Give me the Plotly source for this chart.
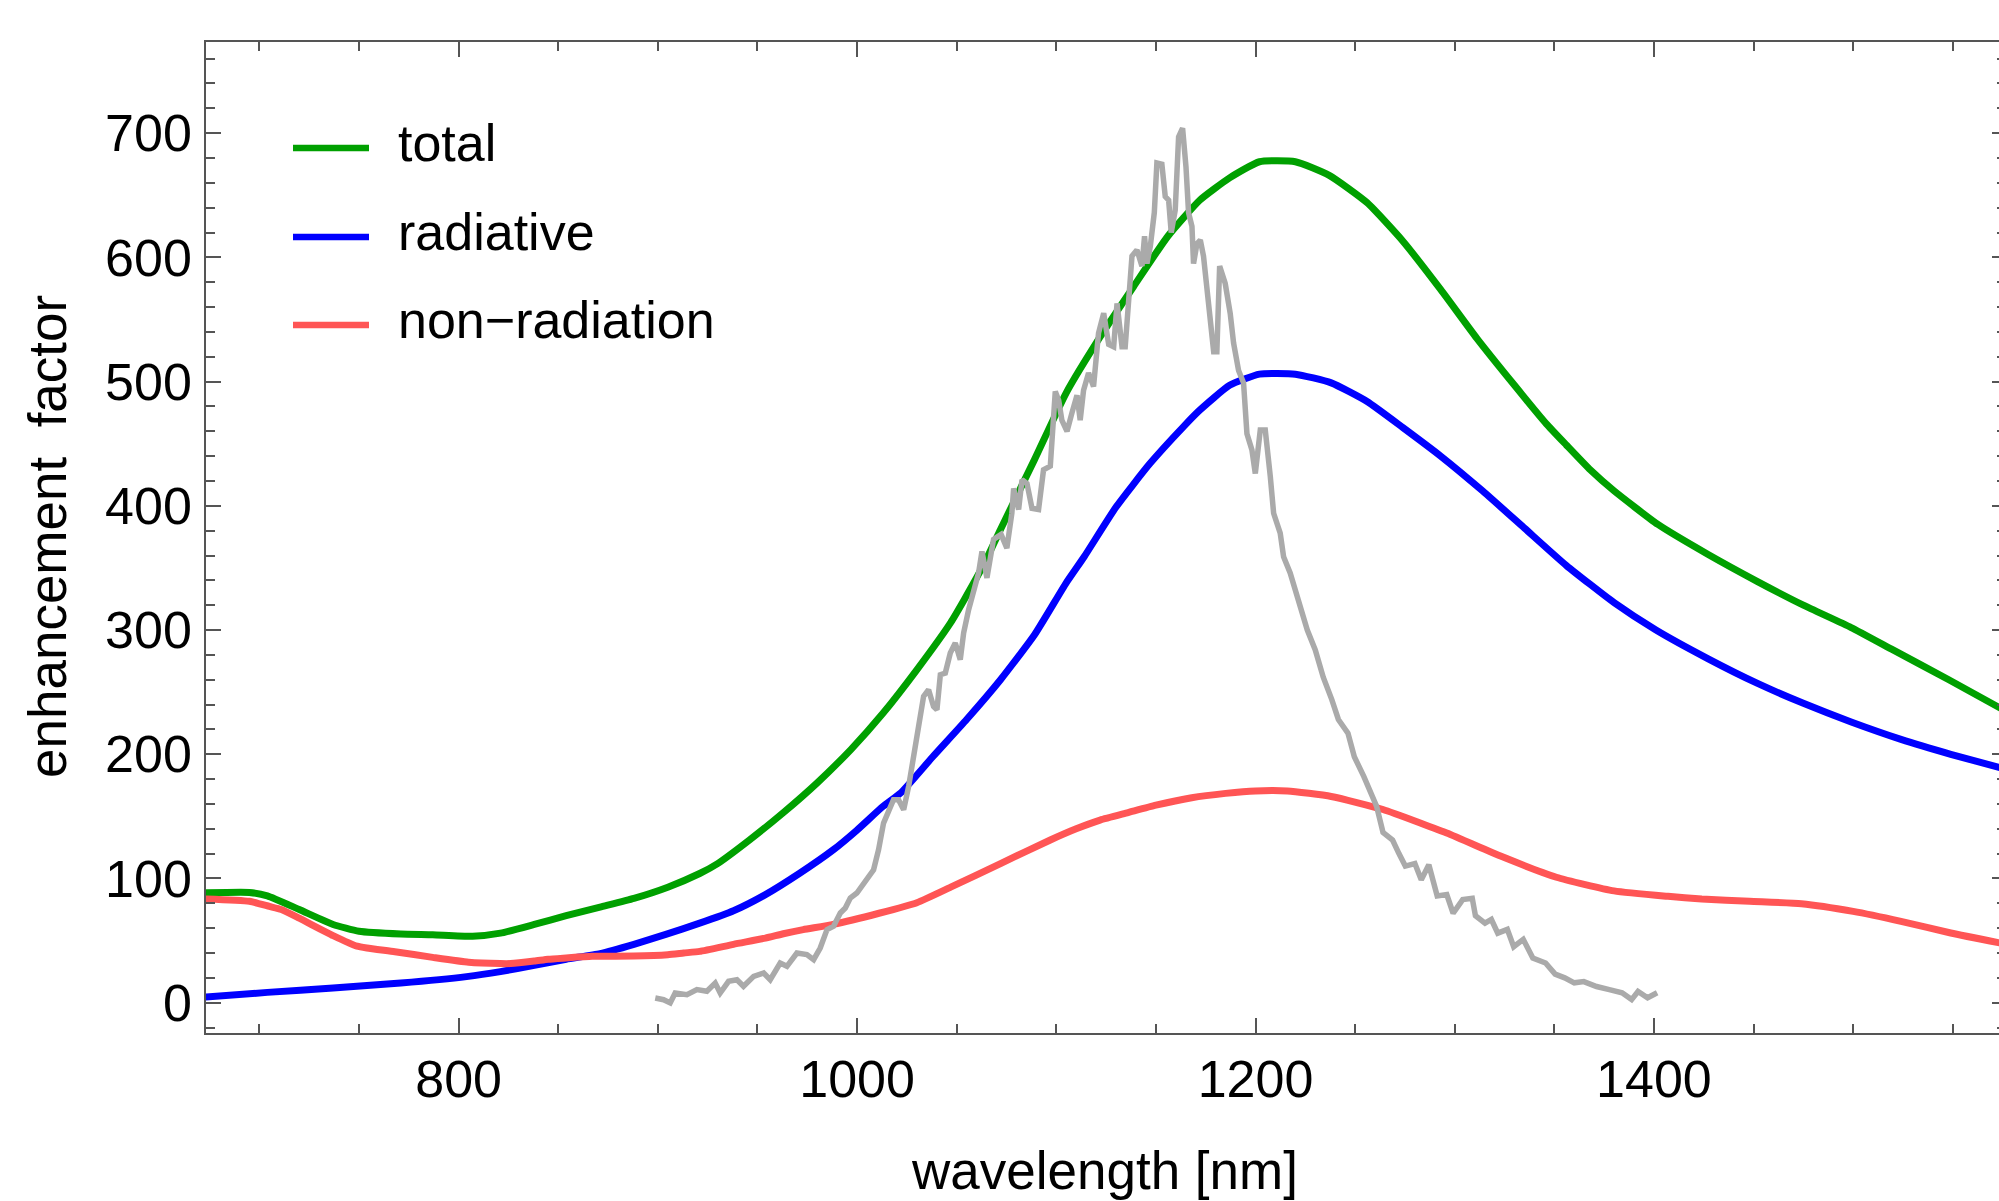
import plotly.graph_objects as go

# ---------------- data ----------------
total_x = [673, 695, 704, 720, 737, 750, 771, 787, 807, 821, 838, 854, 871, 888, 905, 921, 930,
           946, 963, 980, 997, 1013, 1030, 1047, 1054, 1064, 1072, 1089, 1105, 1122, 1139, 1156,
           1172, 1187, 1202, 1220, 1237, 1256, 1274, 1293, 1311, 1330, 1346, 1356, 1368, 1380,
           1402, 1427, 1452, 1475, 1499, 1520, 1548, 1574]
total_y = [88.5, 88.8, 86, 75, 63, 57.5, 55.3, 54.7, 53.5, 56, 63, 70, 77, 84, 93, 104, 112,
           131, 153, 177, 204, 233, 268, 306, 325, 354, 381, 437, 491, 536, 577, 617,
           646, 664, 677, 677, 666, 644, 613, 574, 535, 497, 466, 449, 429, 412,
           385, 361, 339, 320, 302, 284, 260, 237]

radiative_x = [673, 704, 737, 771, 804, 821, 838, 854, 871, 888, 904, 921, 938, 954, 971, 988,
               1000, 1013, 1022, 1038, 1055, 1072, 1089, 1105, 1114, 1130, 1147, 1164, 1172,
               1187, 1202, 1220, 1238, 1256, 1274, 1293, 1314, 1335, 1356, 1380, 1401,
               1427, 1452, 1475, 1499, 1524, 1549, 1574]
radiative_y = [4.5, 8.3, 11.8, 15.8, 21, 25, 30, 35, 39.5, 47, 55, 64, 74, 87, 104, 123,
               139, 158, 169, 198, 228, 260, 296, 338, 359, 399, 434, 464, 477,
               497, 506, 506, 499, 484, 463, 440, 412, 382, 352, 322, 300,
               277, 257, 241, 226, 212, 200, 189]

nonrad_x = [673, 695, 705, 711, 720, 737, 749, 754, 768, 787, 805, 821, 826, 838, 845, 854, 867,
            888, 905, 913, 921, 938, 954, 963, 973, 988, 1011, 1030, 1047, 1072, 1097, 1110,
            1122, 1136, 1150, 1168, 1185, 1200, 1216, 1238, 1264, 1296, 1323, 1351, 1380, 1407,
            1424, 1448, 1474, 1500, 1524, 1549, 1574]
nonrad_y = [83.5, 81.6, 77.5, 75, 68, 54, 45.5, 44, 41, 36.5, 32.6, 31.5, 31.5, 33.5, 35, 36, 37.3,
            37.5, 38.6, 40, 41.3, 47, 52, 55.5, 58.8, 63, 72, 80.5, 93, 112, 131, 140,
            147, 153, 159, 165, 168.5, 170.5, 170.5, 166, 155.5, 136.6, 118, 101, 90, 85.6,
            83.5, 81.6, 79.7, 73.5, 65.5, 56.1, 48]

measured_x = [898.7, 902.9, 906.2, 908.7, 914.6, 919.6, 924.6, 928.8, 931.3, 935.5, 939.7, 943.0,
              948.1, 953.1, 956.4, 961.4, 964.8, 969.8, 974.8, 978.2, 981.5, 984.9, 988.2, 991.6,
              994.1, 996.6, 999.9, 1003.3, 1005.8, 1008.3, 1010.8, 1013.3, 1015.8, 1018.3, 1020.8,
              1023.4, 1025.9, 1028.4, 1030.9, 1033.4, 1035.9, 1038.4, 1040.1, 1041.8, 1044.3,
              1046.8, 1049.3, 1051.8, 1053.5, 1056.0, 1058.5, 1061.0, 1062.7, 1065.2, 1068.5,
              1072.3, 1075.2, 1077.7, 1078.6, 1081.1, 1082.8, 1085.3, 1087.8, 1091.1, 1093.6,
              1097.0, 1099.5, 1101.2, 1102.8, 1105.4, 1107.9, 1110.4, 1112.0, 1113.7, 1116.2,
              1118.7, 1121.2, 1123.8, 1126.3, 1128.8, 1130.5, 1133.0, 1134.6, 1136.3, 1138.0,
              1140.5, 1143.0, 1144.3, 1145.5, 1147.2, 1149.2, 1150.5, 1153.0, 1154.7, 1156.4,
              1157.7, 1159.7, 1161.4, 1163.4, 1165.1, 1166.4, 1168.1, 1168.9, 1170.6, 1172.3,
              1173.9, 1176.5, 1179.0, 1180.6, 1182.0, 1184.8, 1187.3, 1189.0, 1191.5, 1194.0,
              1195.7, 1198.2, 1199.9, 1202.4, 1204.9, 1207.4, 1209.1, 1212.4, 1214.1, 1217.4,
              1221.6, 1226.0, 1230.0, 1234.0, 1238.3, 1241.6, 1246.4, 1249.6, 1254.4, 1257.6,
              1260.8, 1264.0, 1268.8, 1272.0, 1275.2, 1280.0, 1283.2, 1287.0, 1291.2, 1296.0,
              1299.2, 1304.0, 1308.8, 1310.4, 1315.2, 1318.4, 1321.6, 1326.4, 1329.6, 1334.4,
              1339.2, 1345.6, 1350.4, 1355.2, 1360.0, 1364.8, 1371.2, 1377.6, 1384.0, 1388.8,
              1392.0, 1396.8, 1401.6]
measured_y = [3.8, 2.4, -0.2, 7.8, 6.5, 10.5, 9.2, 15.8, 7.8, 17.2, 18.5, 13.2,
              21.2, 23.9, 18.5, 31.9, 29.3, 40, 38.7, 34.6, 44, 58.8, 61.5, 72.2,
              76.2, 84.3, 88.3, 96.3, 101.7, 107, 123.2, 144.6, 154, 163.4, 163.4,
              155.4, 174.2, 195.6, 222.5, 246.6, 252, 238.5, 235.9, 264, 265.4,
              281.5, 289.5, 276.1, 297.6, 316.4, 329.8, 345.9, 363.3, 342, 373,
              377, 366, 394, 414, 397, 421, 418, 398, 397, 429,
              432, 492, 485, 469, 460, 475, 489, 469, 493, 507,
              496, 539, 555, 530, 528, 563, 528, 528, 563, 601,
              606, 593, 617, 595, 609, 636, 676, 675, 649, 646,
              620, 638, 697, 704, 673, 636, 625, 595, 611, 614,
              601, 566, 524, 524, 593, 579, 555, 531, 509, 499,
              458, 445, 426, 461, 461, 424, 394, 378, 359, 346,
              324, 300, 284, 262, 244, 228, 217, 198, 182, 169,
              158, 137, 131, 120, 110, 112, 99, 111, 86, 87,
              72, 83, 84, 70, 64, 67, 56, 59, 45, 51,
              36, 32, 23, 20, 16, 17, 13, 10.5, 8, 2.5,
              9, 4, 8]

series_names = ["total", "radiative", "non\u2212radiation"]
series_colors = ["#00A000", "#0000FF", "#FF5555"]
x_tick_vals = [800, 1000, 1200, 1400]
y_tick_vals = [0, 100, 200, 300, 400, 500, 600, 700]

# ---------------- figure ----------------
W, H = 1999, 1201
ML, MR, MT, MB = 206, 0, 42, 168
FONT = "Liberation Sans, Arial, sans-serif"
AXC = "#555555"

fig = go.Figure()
for xs, ys, name, col in [(total_x, total_y, series_names[0], series_colors[0]),
                          (radiative_x, radiative_y, series_names[1], series_colors[1]),
                          (nonrad_x, nonrad_y, series_names[2], series_colors[2])]:
    fig.add_trace(go.Scatter(x=xs, y=ys, mode="lines", name=name,
                             line=dict(color=col, width=7, shape="spline", smoothing=0.5)))
fig.add_trace(go.Scatter(x=measured_x, y=measured_y, mode="lines", name="measured",
                         line=dict(color="#AAAAAA", width=5.5)))
# invisible trace to anchor the right-hand tick axis
fig.add_trace(go.Scatter(x=[None], y=[None], yaxis="y2", showlegend=False, hoverinfo="skip"))

yr = [-24.4, 773.4]
fig.update_layout(
    width=W, height=H,
    margin=dict(l=ML, r=MR, t=MT, b=MB, pad=0),
    paper_bgcolor="white", plot_bgcolor="white",
    showlegend=False,
    font=dict(family=FONT, size=52, color="black"),
    xaxis=dict(range=[673.2, 1573.2], tickvals=x_tick_vals, ticks="inside", ticklen=15,
               tickwidth=1.5, tickcolor=AXC, showline=True, linecolor=AXC, linewidth=1.5,
               mirror="ticks", showgrid=False, zeroline=False, automargin=False,
               tickfont=dict(family=FONT, size=52, color="black"),
               minor=dict(dtick=50, tick0=0, ticks="inside", ticklen=9, tickcolor=AXC,
                          tickwidth=1.5, showgrid=False)),
    yaxis=dict(range=yr, tickvals=y_tick_vals, ticks="inside", ticklen=15,
               tickwidth=1.5, tickcolor=AXC, showline=True, linecolor=AXC, linewidth=1.5,
               mirror=False, showgrid=False, zeroline=False, automargin=False,
               ticklabelstandoff=2,
               tickfont=dict(family=FONT, size=52, color="black"),
               minor=dict(dtick=20, tick0=0, ticks="inside", ticklen=9, tickcolor=AXC,
                          tickwidth=1.5, showgrid=False)),
    yaxis2=dict(range=yr, overlaying="y", side="right", tickvals=y_tick_vals,
                ticks="inside", ticklen=7, tickwidth=1.5, tickcolor=AXC,
                showline=False, showgrid=False, zeroline=False, showticklabels=False,
                automargin=False,
                minor=dict(dtick=20, tick0=0, ticks="inside", ticklen=2, tickcolor=AXC,
                           tickwidth=1.5, showgrid=False)),
)

PW, PH = W - ML - MR, H - MT - MB


def px_x(p):
    return (p - ML) / PW


def px_y(p):
    return (H - MB - p) / PH


annotations = [
    dict(text="wavelength [nm]", x=px_x(1104), y=px_y(1170), xref="paper", yref="paper",
         xanchor="center", yanchor="middle", showarrow=False,
         font=dict(family=FONT, size=53, color="black")),
    dict(text="enhancement\u00a0\u00a0factor", x=px_x(47), y=px_y(537), xref="paper", yref="paper",
         xanchor="center", yanchor="middle", textangle=-90, showarrow=False,
         font=dict(family=FONT, size=53, color="black")),
]
shapes = []
legend_rows = [148, 237, 325]
for name, col, yy in zip(series_names, series_colors, legend_rows):
    shapes.append(dict(type="line", xref="paper", yref="paper", x0=px_x(293), x1=px_x(369),
                       y0=px_y(yy), y1=px_y(yy), line=dict(color=col, width=6.5)))
    annotations.append(dict(text=name, x=px_x(396), y=px_y(yy - 5), xref="paper", yref="paper",
                            xanchor="left", yanchor="middle", showarrow=False,
                            font=dict(family=FONT, size=52, color="black")))
fig.update_layout(annotations=annotations, shapes=shapes)

fig.write_html("out.html",
               config={"displayModeBar": False},
               post_script="document.body.style.margin='0';document.body.style.overflow='hidden';")
